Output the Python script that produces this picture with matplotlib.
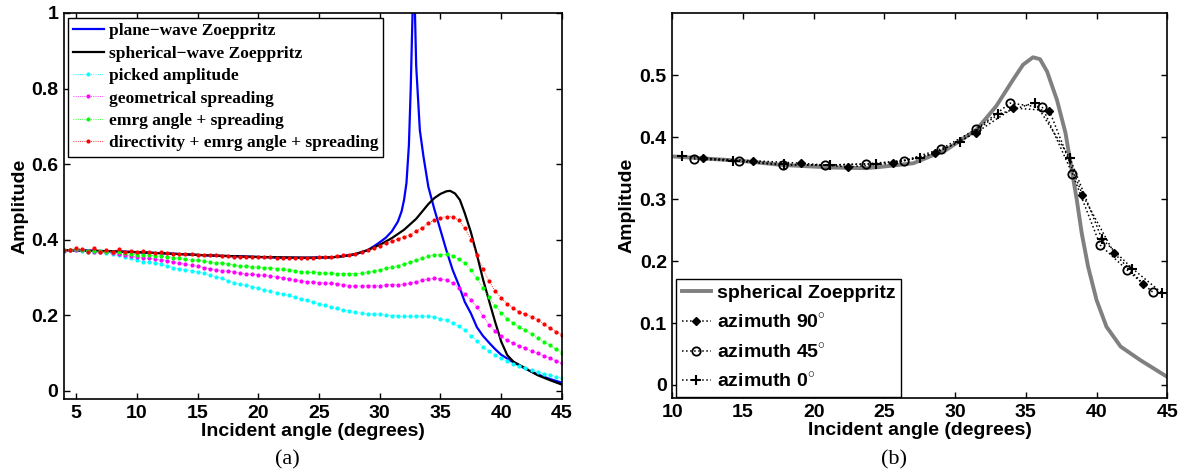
import numpy as np
import matplotlib
matplotlib.use('Agg')
from matplotlib import pyplot as plt
from matplotlib.ticker import FixedLocator, FixedFormatter

# ---- panel (a) data -------------------------------------------------------
# dotted series are sampled every half degree from 4 to 45
angle_a = np.arange(4.0, 45.01, 0.5)

picked = [0.370, 0.372, 0.372, 0.371, 0.368, 0.367, 0.366, 0.364, 0.362, 0.358,
          0.354, 0.350, 0.345, 0.342, 0.340, 0.338, 0.335, 0.331, 0.326, 0.322,
          0.320, 0.317, 0.314, 0.311, 0.306, 0.301, 0.297, 0.291, 0.286, 0.282,
          0.279, 0.275, 0.271, 0.267, 0.263, 0.259, 0.256, 0.252, 0.248, 0.244,
          0.240, 0.235, 0.230, 0.226, 0.222, 0.218, 0.214, 0.210, 0.207, 0.205,
          0.204, 0.203, 0.203, 0.201, 0.199, 0.198, 0.197, 0.197, 0.197, 0.198,
          0.197, 0.195, 0.191, 0.186, 0.179, 0.170, 0.160, 0.146, 0.131, 0.116,
          0.104, 0.094, 0.086, 0.078, 0.071, 0.065, 0.059, 0.054, 0.050, 0.045,
          0.041, 0.037, 0.033]

geom = [0.371, 0.372, 0.373, 0.372, 0.369, 0.368, 0.367, 0.366, 0.364, 0.362,
        0.360, 0.357, 0.354, 0.352, 0.350, 0.349, 0.347, 0.344, 0.340, 0.337,
        0.335, 0.332, 0.329, 0.326, 0.323, 0.320, 0.318, 0.316, 0.314, 0.311,
        0.309, 0.308, 0.307, 0.305, 0.303, 0.301, 0.299, 0.296, 0.293, 0.290,
        0.288, 0.287, 0.286, 0.285, 0.284, 0.283, 0.281, 0.278, 0.277, 0.277,
        0.278, 0.278, 0.278, 0.280, 0.281, 0.281, 0.282, 0.284, 0.288, 0.293,
        0.296, 0.297, 0.296, 0.293, 0.285, 0.272, 0.257, 0.240, 0.222, 0.198,
        0.175, 0.157, 0.144, 0.133, 0.125, 0.118, 0.112, 0.105, 0.099, 0.092,
        0.086, 0.079, 0.072]

emrg = [0.372, 0.373, 0.374, 0.373, 0.370, 0.369, 0.369, 0.368, 0.367, 0.366,
        0.364, 0.362, 0.360, 0.359, 0.358, 0.357, 0.356, 0.354, 0.352, 0.350,
        0.348, 0.347, 0.345, 0.343, 0.341, 0.339, 0.338, 0.336, 0.333, 0.330,
        0.329, 0.328, 0.327, 0.326, 0.325, 0.323, 0.321, 0.319, 0.317, 0.315,
        0.314, 0.313, 0.312, 0.311, 0.311, 0.310, 0.310, 0.310, 0.310, 0.311,
        0.313, 0.316, 0.320, 0.324, 0.328, 0.331, 0.336, 0.340, 0.345, 0.351,
        0.356, 0.359, 0.360, 0.361, 0.356, 0.348, 0.337, 0.320, 0.297, 0.272,
        0.248, 0.224, 0.205, 0.190, 0.178, 0.169, 0.160, 0.149, 0.139, 0.130,
        0.121, 0.110, 0.100]

directivity = [0.372, 0.372, 0.378, 0.374, 0.366, 0.378, 0.366, 0.372, 0.368, 0.374,
               0.366, 0.371, 0.366, 0.370, 0.366, 0.364, 0.367, 0.365, 0.362, 0.363,
               0.361, 0.361, 0.359, 0.360, 0.360, 0.358, 0.357, 0.356, 0.355, 0.355,
               0.354, 0.354, 0.353, 0.353, 0.353, 0.352, 0.352, 0.350, 0.351, 0.352,
               0.352, 0.352, 0.353, 0.353, 0.354, 0.356, 0.358, 0.360, 0.362, 0.366,
               0.372, 0.378, 0.384, 0.390, 0.396, 0.402, 0.407, 0.413, 0.422, 0.432,
               0.443, 0.452, 0.458, 0.461, 0.460, 0.452, 0.430, 0.400, 0.360, 0.322,
               0.290, 0.264, 0.245, 0.230, 0.218, 0.208, 0.203, 0.196, 0.188, 0.177,
               0.166, 0.156, 0.148]

plane_x = [4, 6, 8, 10, 12, 14, 16, 18, 20, 22, 24, 26, 27, 28, 29, 29.5, 30, 30.5,
           31, 31.5, 31.8, 32.0, 32.2, 32.4, 32.55, 32.7, 32.8, 32.9, 33.0, 33.3,
           33.6, 34.0, 34.5, 35.0, 35.5, 36.0, 36.5, 37.0, 37.5, 38.0, 38.5, 39.0,
           39.5, 40.0, 41, 42, 43, 44, 45]
plane_y = [0.372, 0.371, 0.369, 0.367, 0.364, 0.361, 0.358, 0.356, 0.354, 0.352,
           0.352, 0.353, 0.356, 0.361, 0.372, 0.382, 0.393, 0.405, 0.422, 0.448,
           0.475, 0.505, 0.550, 0.650, 0.800, 1.000, 1.060, 1.000, 0.860, 0.690,
           0.620, 0.540, 0.480, 0.425, 0.370, 0.320, 0.280, 0.235, 0.205, 0.168,
           0.145, 0.127, 0.110, 0.095, 0.075, 0.058, 0.043, 0.031, 0.021]

sph_x = [4, 8, 12, 16, 20, 24, 26, 27, 28, 29, 30, 31, 32, 33, 34, 34.5, 35, 35.5,
         35.8, 36.2, 36.6, 37.0, 37.5, 38, 38.5, 39, 39.5, 40, 40.5, 41, 42, 43, 44, 45]
sph_y = [0.372, 0.369, 0.364, 0.358, 0.354, 0.352, 0.353, 0.356, 0.362, 0.372,
         0.386, 0.404, 0.426, 0.455, 0.494, 0.510, 0.521, 0.528, 0.529, 0.522,
         0.505, 0.470, 0.420, 0.360, 0.295, 0.238, 0.182, 0.130, 0.094, 0.077,
         0.059, 0.041, 0.028, 0.016]

# ---- panel (b) data -------------------------------------------------------
zoep_x = [10, 12, 14.8, 17.85, 21.4, 23.7, 24.7, 27.05, 29.4, 31.5, 32.9, 34.1,
          34.8, 35.5, 36.0, 36.5, 37.2, 37.8, 38.2, 38.6, 38.95, 39.4, 40.0,
          40.7, 41.7, 43.1, 45]
zoep_y = [0.369, 0.366, 0.362, 0.355, 0.351, 0.350, 0.352, 0.358, 0.380, 0.412,
          0.450, 0.493, 0.517, 0.529, 0.526, 0.506, 0.460, 0.407, 0.353, 0.299,
          0.245, 0.191, 0.137, 0.094, 0.062, 0.040, 0.013]

az90_x = [12.15, 15.69, 19.12, 22.45, 25.6, 28.6, 31.46, 34.1, 36.66, 39.0, 41.24, 43.3]
az90_y = [0.366, 0.362, 0.358, 0.352, 0.358, 0.374, 0.407, 0.447, 0.443, 0.307, 0.213, 0.163]

az45_x = [11.53, 14.74, 17.8, 20.8, 23.68, 26.4, 29.0, 31.5, 33.88, 36.17, 38.29,
          40.25, 42.14, 43.97]
az45_y = [0.365, 0.361, 0.355, 0.355, 0.357, 0.362, 0.381, 0.413, 0.455, 0.448,
          0.341, 0.226, 0.186, 0.150]

az0_x = [10.66, 14.3, 17.9, 21.15, 24.4, 27.5, 30.35, 33.05, 35.65, 38.12, 40.37,
         42.53, 44.6]
az0_y = [0.370, 0.362, 0.356, 0.355, 0.357, 0.366, 0.392, 0.437, 0.456, 0.366,
         0.236, 0.188, 0.149]

sans = 'Liberation Sans'
serif = 'Liberation Serif'
plt.rcParams['font.family'] = sans
plt.rcParams['font.weight'] = 'bold'
plt.rcParams['mathtext.fontset'] = 'custom'
plt.rcParams['mathtext.rm'] = sans


def matlab_axes(ax, ypad):
    ax.tick_params(direction='in', top=True, right=True, length=4, width=1,
                   labelsize=14, pad=4)
    for sp in ax.spines.values():
        sp.set_linewidth(1.2)
    for lab in ax.get_xticklabels() + ax.get_yticklabels():
        lab.set_fontweight('bold')
    ax.set_xlabel('Incident angle (degrees)', fontsize=14, fontweight='bold', labelpad=1)
    ax.set_ylabel('Amplitude', fontsize=14, fontweight='bold', labelpad=ypad)


fig = plt.figure(figsize=(11.87, 4.72), dpi=100)
ax1 = fig.add_axes([0.0539, 0.1547, 0.4195, 0.8178])
ax2 = fig.add_axes([0.5664, 0.1568, 0.4170, 0.8150])

# panel (a)
ax1.plot(plane_x, plane_y, color='#0000ff', lw=1.6, label='plane\u2212wave Zoeppritz')
ax1.plot(sph_x, sph_y, color='black', lw=1.6, label='spherical\u2212wave Zoeppritz')
dot_kw = dict(ls=':', lw=0.6, marker='.', markersize=4)
ax1.plot(angle_a, picked, color='#00ffff', label='picked amplitude', **dot_kw)
ax1.plot(angle_a, geom, color='#ff00ff', label='geometrical spreading', **dot_kw)
ax1.plot(angle_a, emrg, color='#00ff00', label='emrg angle + spreading', **dot_kw)
ax1.plot(angle_a, directivity, color='#ff0000',
         label='directivity + emrg angle + spreading', **dot_kw)
ax1.set_xlim(4, 45)
ax1.set_ylim(-0.022, 1.0)
ax1.xaxis.set_major_locator(FixedLocator([5, 10, 15, 20, 25, 30, 35, 40, 45]))
ax1.yaxis.set_major_locator(FixedLocator([0, 0.2, 0.4, 0.6, 0.8, 1.0]))
ax1.yaxis.set_major_formatter(FixedFormatter(['0', '0.2', '0.4', '0.6', '0.8', '1']))
matlab_axes(ax1, 2)
leg1 = ax1.legend(loc='upper left', bbox_to_anchor=(0.008, 0.987), borderaxespad=0,
                  prop={'family': serif, 'weight': 'bold', 'size': 12.5},
                  frameon=True, fancybox=False, edgecolor='black', framealpha=1,
                  labelspacing=0.36, handlelength=1.75, handletextpad=0.3,
                  borderpad=0.3, numpoints=1)
leg1.get_frame().set_linewidth(1.0)

# panel (b)
ax2.plot(zoep_x, zoep_y, color='#808080', lw=2.8, label='spherical Zoeppritz')
ax2.plot(az90_x, az90_y, color='black', ls=':', lw=1.1, marker='D', markersize=4,
         markerfacecolor='black', label='azimuth 90$^{\\circ}$')
ax2.plot(az45_x, az45_y, color='black', ls=':', lw=1.1, marker='o', markersize=6,
         markerfacecolor='none', markeredgewidth=1.3, label='azimuth 45$^{\\circ}$')
ax2.plot(az0_x, az0_y, color='black', ls=':', lw=1.1, marker='+', markersize=7,
         markeredgewidth=1.5, label='azimuth 0$^{\\circ}$')
ax2.set_xlim(10, 45)
ax2.set_ylim(-0.021, 0.6)
ax2.xaxis.set_major_locator(FixedLocator([10, 15, 20, 25, 30, 35, 40, 45]))
ax2.yaxis.set_major_locator(FixedLocator([0, 0.1, 0.2, 0.3, 0.4, 0.5]))
ax2.yaxis.set_major_formatter(FixedFormatter(['0', '0.1', '0.2', '0.3', '0.4', '0.5']))
matlab_axes(ax2, 3)
leg2 = ax2.legend(loc='lower left', bbox_to_anchor=(0.0075, 0.003), borderaxespad=0,
                  prop={'family': sans, 'weight': 'bold', 'size': 14},
                  frameon=True, fancybox=False, edgecolor='black', framealpha=1,
                  labelspacing=0.55, handlelength=1.5, handletextpad=0.3,
                  borderpad=0.3, numpoints=1)
leg2.get_frame().set_linewidth(1.0)

# sub-figure captions
fig.text(287.5 / 1187, 1 - 460 / 472, '(a)', family=serif, weight='normal',
         fontsize=16, ha='center', va='center')
fig.text(894 / 1187, 1 - 460 / 472, '(b)', family=serif, weight='normal',
         fontsize=16, ha='center', va='center')

fig.savefig('out.png', dpi=100)
